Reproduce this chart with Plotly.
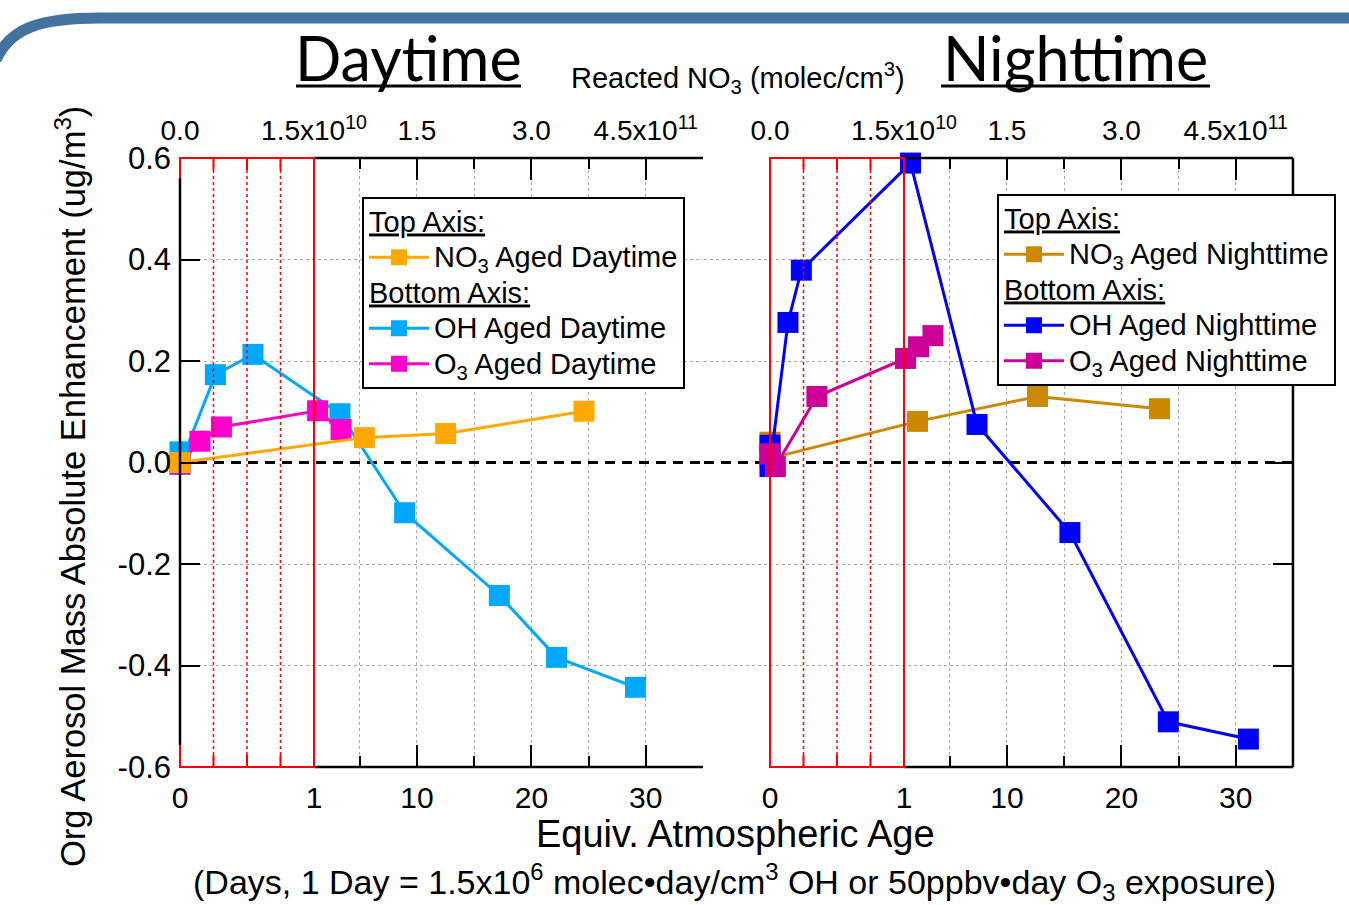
import plotly.graph_objects as go

# ---------------- data ----------------
# Bottom axis: equivalent atmospheric age (days); top axis: reacted NO3 (molec/cm3)
day_oh_age = [0, 0, 0.264, 0.544, 3.27, 8.92, 17.2, 22.2, 29.1]
day_oh_val = [0.021, -0.004, 0.173, 0.213, 0.096, -0.099, -0.262, -0.384, -0.443]

day_o3_age = [0, 0.149, 0.309, 1.31, 3.36]
day_o3_val = [-0.003, 0.042, 0.070, 0.102, 0.065]

day_no3_exp = [0, 8.1e10, 1.875e11, 3.69e11]
day_no3_val = [0.0, 0.049, 0.057, 0.101]

night_oh_age = [0, 0, 0.134, 0.234, 1.57, 7.38, 15.5, 24.1, 31.1]
night_oh_val = [0.034, -0.008, 0.276, 0.379, 0.59, 0.075, -0.138, -0.511, -0.545]

night_o3_age = [0, 0.04, 0.35, 1.13, 2.27, 3.53]
night_o3_val = [0.017, -0.008, 0.13, 0.205, 0.228, 0.25]

night_no3_exp = [0, 0, 3.27e10, 1.9e11, 3.5e11]
night_no3_val = [0.04, 0.008, 0.081, 0.13, 0.106]

bottom_major_days = [0, 1, 10, 20, 30]
bottom_major_text = ["0", "1", "10", "20", "30"]
bottom_minor_days = [5, 15, 25, 35]
top_major_no3 = [0, 1.5e10, 1.5e11, 3.0e11, 4.5e11]
top_major_text = ["0.0", "1.5x10<sup>10</sup>", "1.5", "3.0", "4.5x10<sup>11</sup>"]
top_minor_no3 = [7.5e10, 2.25e11, 3.75e11, 5.25e11]
y_ticks = [0.6, 0.4, 0.2, 0.0, -0.2, -0.4, -0.6]
y_tick_text = ["0.6", "0.4", "0.2", "0.0", "-0.2", "-0.4", "-0.6"]
y_grid = [0.6, 0.4, 0.2, -0.2, -0.4, -0.6]

# ---------------- geometry ----------------
FIG_W, FIG_H = 1349, 905
PLOT_L, PLOT_R, PLOT_T, PLOT_B = 180, 1293, 158, 767
LEFT_END_PX = 703
RIGHT_START_PX = 704
RIGHT_ZERO_PX = 770
SEG_A_PX = 134.0          # width of the expanded 0-1 day stretch
DAY_PX = 11.44            # width of one day beyond day 1
K = DAY_PX / SEG_A_PX
NO3_PER_DAY = 1.5e10      # top-axis units per bottom-axis day
Y_MIN, Y_MAX = -0.6, 0.6


def warp(d):
    """Broken age axis: 0-1 day stretched, 1-35 days compressed."""
    return d if d <= 1 else 1 + (d - 1) * K


def warp_no3(e):
    return warp(e / NO3_PER_DAY)


T_MAX = warp(35)
T_MIN_RIGHT = -(RIGHT_ZERO_PX - RIGHT_START_PX) / SEG_A_PX


def pxx(px):
    return (px - PLOT_L) / (PLOT_R - PLOT_L)


def pxy(py):
    return (PLOT_B - py) / (PLOT_B - PLOT_T)


def yv(v):
    return (v - Y_MIN) / (Y_MAX - Y_MIN)


def left_t(t):
    return pxx(PLOT_L + t * SEG_A_PX)


def right_t(t):
    return pxx(RIGHT_ZERO_PX + t * SEG_A_PX)


FONT = "Liberation Sans, Arial, sans-serif"
TITLE_FONT = "Lato, Liberation Sans, sans-serif"
RED = "#FF0000"
GRID = "#A8A8A8"

C_DAY_OH, C_DAY_O3, C_DAY_NO3 = "#00A8FF", "#FF00CC", "#FFA800"
C_NIGHT_OH, C_NIGHT_O3, C_NIGHT_NO3 = "#0000FF", "#CC0099", "#CC8800"

LEG_TXT = "<span style='font-size:29px'>{}</span>"

fig = go.Figure()


def series(xs, ys, color, name, xaxis, yaxis, legend, group, title, rank):
    fig.add_trace(go.Scatter(
        x=xs, y=ys, mode="lines+markers", name=LEG_TXT.format(name),
        xaxis=xaxis, yaxis=yaxis, legend=legend,
        legendgroup=group, legendgrouptitle=dict(text="<u>" + LEG_TXT.format(title) + "</u>"),
        legendrank=rank,
        line=dict(color=color, width=3),
        marker=dict(symbol="square", size=21, color=color, line=dict(width=0)),
        hoverinfo="skip", cliponaxis=False,
    ))


# Daytime panel: bottom axis x, top (NO3) axis x3 drawn over it
series([warp(d) for d in day_oh_age], day_oh_val, C_DAY_OH, "OH Aged Daytime",
       "x", "y", "legend", "bottom", "Bottom Axis:", 2)
series([warp(d) for d in day_o3_age], day_o3_val, C_DAY_O3, "O<sub>3</sub> Aged Daytime",
       "x", "y", "legend", "bottom", "Bottom Axis:", 3)
series([warp_no3(e) for e in day_no3_exp], day_no3_val, C_DAY_NO3, "NO<sub>3</sub> Aged Daytime",
       "x3", "y", "legend", "top", "Top Axis:", 1)

# Nighttime panel: top (NO3) axis x2 underneath, bottom axis x4 drawn over it
series([warp_no3(e) for e in night_no3_exp], night_no3_val, C_NIGHT_NO3, "NO<sub>3</sub> Aged Nighttime",
       "x2", "y2", "legend2", "top", "Top Axis:", 1)
series([warp(d) for d in night_oh_age], night_oh_val, C_NIGHT_OH, "OH Aged Nighttime",
       "x4", "y2", "legend2", "bottom", "Bottom Axis:", 2)
series([warp(d) for d in night_o3_age], night_o3_val, C_NIGHT_O3, "O<sub>3</sub> Aged Nighttime",
       "x4", "y2", "legend2", "bottom", "Bottom Axis:", 3)


def x_axis(side, rng, anchor, vals, text, minor_vals, size, standoff, grid, **extra):
    ax = dict(
        side=side, range=rng, anchor=anchor, showline=False, zeroline=False,
        tickmode="array", tickvals=vals, ticktext=text,
        ticks="inside", ticklen=22, tickwidth=2, tickcolor="black",
        tickfont=dict(family=FONT, size=size, color="black"), ticklabelstandoff=standoff,
        showgrid=grid, gridcolor=GRID, gridwidth=1, griddash="dot",
        minor=dict(tickvals=minor_vals, ticks="inside", ticklen=11, tickwidth=2, tickcolor="black",
                   showgrid=grid, gridcolor=GRID, griddash="dot", gridwidth=1),
    )
    ax.update(extra)
    return ax


bot_vals = [warp(d) for d in bottom_major_days]
bot_minor = [warp(d) for d in bottom_minor_days]
top_vals = [warp_no3(e) for e in top_major_no3]
top_minor = [warp_no3(e) for e in top_minor_no3]

left_dom = [0, pxx(LEFT_END_PX)]
right_dom = [pxx(RIGHT_START_PX), 1]

# y gridlines come from minor ticks (no line under the dashed zero reference)
y_minor = dict(tickvals=y_grid, ticks="", showgrid=True, gridcolor=GRID, gridwidth=1, griddash="dot")

fig.update_layout(
    width=FIG_W, height=FIG_H, autosize=False,
    margin=dict(l=PLOT_L, r=FIG_W - PLOT_R, t=PLOT_T, b=FIG_H - PLOT_B, pad=0),
    paper_bgcolor="white", plot_bgcolor="white", showlegend=True,
    xaxis=x_axis("bottom", [0, T_MAX], "y", bot_vals, bottom_major_text, bot_minor, 30, 10, True,
                 domain=left_dom),
    xaxis3=x_axis("top", [0, T_MAX], "y", top_vals, top_major_text, top_minor, 28, 11, False,
                  overlaying="x"),
    xaxis2=x_axis("top", [T_MIN_RIGHT, T_MAX], "y2", top_vals, top_major_text, top_minor, 28, 11, True,
                  domain=right_dom),
    xaxis4=x_axis("bottom", [T_MIN_RIGHT, T_MAX], "y2", bot_vals, bottom_major_text, bot_minor, 30, 10,
                  False, overlaying="x2"),
    yaxis=dict(domain=[0, 1], range=[Y_MIN, Y_MAX], anchor="x", showline=False, zeroline=False,
               tickmode="array", tickvals=y_ticks, ticktext=y_tick_text,
               ticks="inside", ticklen=20, tickwidth=2, tickcolor="black",
               tickfont=dict(family=FONT, size=31, color="black"), ticklabelstandoff=8,
               showgrid=False, minor=y_minor),
    yaxis2=dict(domain=[0, 1], range=[Y_MIN, Y_MAX], anchor="x2", side="right", showline=False,
                zeroline=False, tickmode="array", tickvals=y_ticks, showticklabels=False,
                ticks="inside", ticklen=20, tickwidth=2, tickcolor="black",
                showgrid=False, minor=y_minor),
)

legend_common = dict(
    xanchor="left", yanchor="top", bgcolor="white", bordercolor="black", borderwidth=2,
    font=dict(family=FONT, size=25, color="black"), tracegroupgap=0, itemwidth=60,
    traceorder="grouped", grouptitlefont=dict(family=FONT, size=25, color="black"),
)
fig.update_layout(
    legend=dict(x=pxx(362), y=pxy(197), **legend_common),
    legend2=dict(x=pxx(997), y=pxy(194), **legend_common),
)

shapes = []


def panel_frame(f, start_px, end_px, left_line):
    # horizontal zero reference
    shapes.append(dict(type="line", xref="paper", yref="paper", x0=pxx(start_px), x1=pxx(end_px),
                       y0=yv(0), y1=yv(0), layer="between",
                       line=dict(color="black", width=3, dash="10px,7px")))
    # black frame on the compressed stretch
    for yy in (0, 1):
        shapes.append(dict(type="line", xref="paper", yref="paper", x0=f(1), x1=f(T_MAX),
                           y0=yy, y1=yy, layer="above", line=dict(color="black", width=2.5)))
    # red box on the 0-1 day stretch
    shapes.append(dict(type="rect", xref="paper", yref="paper", x0=f(0), x1=f(1), y0=0, y1=1,
                       layer="above", line=dict(color=RED, width=2)))
    for q in (0.25, 0.5, 0.75):
        shapes.append(dict(type="line", xref="paper", yref="paper", x0=f(q), x1=f(q), y0=0, y1=1,
                           layer="above", line=dict(color=RED, width=1.5, dash="dot")))
        shapes.append(dict(type="line", xref="paper", yref="paper", x0=f(q), x1=f(q),
                           y0=0, y1=pxy(PLOT_B - 12), layer="above", line=dict(color=RED, width=2)))
        shapes.append(dict(type="line", xref="paper", yref="paper", x0=f(q), x1=f(q),
                           y0=1, y1=pxy(PLOT_T + 12), layer="above", line=dict(color=RED, width=2)))
    if left_line:
        shapes.append(dict(type="line", xref="paper", yref="paper", x0=f(0), x1=f(0),
                           y0=yv(-0.556), y1=yv(0.56), layer="above",
                           line=dict(color="black", width=2.5)))
    else:
        shapes.append(dict(type="line", xref="paper", yref="paper", x0=f(T_MAX), x1=f(T_MAX),
                           y0=0, y1=1, layer="above", line=dict(color="black", width=2.5)))


panel_frame(left_t, PLOT_L, LEFT_END_PX, True)
panel_frame(right_t, RIGHT_START_PX, PLOT_R, False)

# title underlines
for x0, x1 in ((296, 521), (941, 1210)):
    shapes.append(dict(type="line", xref="paper", yref="paper", x0=pxx(x0), x1=pxx(x1),
                       y0=pxy(86), y1=pxy(86), line=dict(color="black", width=3)))

# slide header band with rounded corner
hx = [-4, 10, 40, 100, 1360]
hy = [60, 28, 18, 18, 18]
path = "M {:.5f},{:.5f} C {:.5f},{:.5f} {:.5f},{:.5f} {:.5f},{:.5f} L {:.5f},{:.5f}".format(
    pxx(hx[0]), pxy(hy[0]), pxx(hx[1]), pxy(hy[1]), pxx(hx[2]), pxy(hy[2]),
    pxx(hx[3]), pxy(hy[3]), pxx(hx[4]), pxy(hy[4]))
shapes.append(dict(type="path", xref="paper", yref="paper", path=path,
                   line=dict(color="#44739F", width=11)))

fig.update_layout(shapes=shapes)


def label(text, px, py, size, family=FONT, angle=0):
    fig.add_annotation(text=text, x=pxx(px), y=pxy(py), xref="paper", yref="paper",
                       showarrow=False, xanchor="center", yanchor="middle", textangle=angle,
                       font=dict(family=family, size=size, color="black"))


label("Daytime", 408, 58, 61, TITLE_FONT)
label("Nighttime", 1075, 58, 61, TITLE_FONT)
label("Reacted NO<sub>3</sub> (molec/cm<sup>3</sup>)", 738, 78, 29)
label("Equiv. Atmospheric Age", 735, 834, 38)
label("(Days, 1 Day = 1.5x10<sup>6</sup> molec•day/cm<sup>3</sup> OH or 50ppbv•day O<sub>3</sub> exposure)",
      734, 882, 34)
label("Org Aerosol Mass Absolute Enhancement (ug/m<sup>3</sup>)", 70, 487, 34.5, angle=-90)

fig.write_html("out.html")
